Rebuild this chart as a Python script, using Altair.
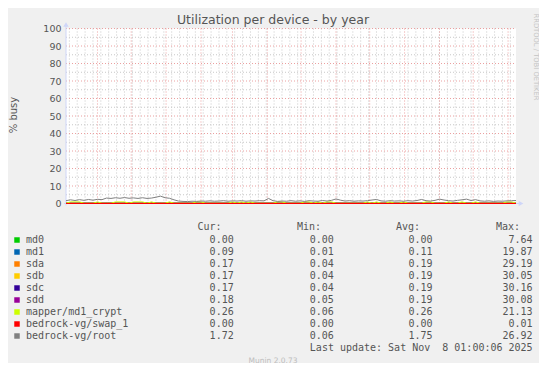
import altair as alt
import pandas as pd

# ---------------- data ----------------
series_names = ["md0", "md1", "sda", "sdb", "sdc", "sdd",
                "mapper/md1_crypt", "bedrock-vg/swap_1", "bedrock-vg/root"]
series_colors = ["#00CC00", "#0066B3", "#FF8000", "#FFCC00", "#330099",
                 "#990099", "#CCFF00", "#FF0000", "#808080"]
cur_vals = [0.00, 0.09, 0.17, 0.17, 0.17, 0.18, 0.26, 0.00, 1.72]
min_vals = [0.00, 0.01, 0.04, 0.04, 0.04, 0.05, 0.06, 0.00, 0.06]
avg_vals = [0.00, 0.11, 0.19, 0.19, 0.19, 0.19, 0.26, 0.00, 1.75]
max_vals = [7.64, 19.87, 29.19, 30.05, 30.16, 30.08, 21.13, 0.01, 26.92]

title_text = "Utilization per device - by year"
y_title = "% busy"
last_update = "Last update: Sat Nov\u00a0 8 01:00:06 2025"
munin_text = "Munin 2.0.73"
watermark = "RRDTOOL / TOBI OETIKER"

y_ticks = [0, 10, 20, 30, 40, 50, 60, 70, 80, 90, 100]
y_minor = [5, 15, 25, 35, 45, 55, 65, 75, 85, 95]
x_label_days = [(2024, 11, 17), (2025, 1, 17), (2025, 3, 17),
                (2025, 5, 17), (2025, 7, 17), (2025, 9, 17)]

start = pd.Timestamp("2024-10-04 01:00")
end = pd.Timestamp("2025-11-08 01:00")
dates4 = pd.date_range(start, end, freq="4D")     # 101 samples
dates16 = pd.date_range(start, end, freq="16D")   # 26 samples
week_lines = pd.date_range("2024-10-07", "2025-11-07", freq="7D")
month_lines = pd.date_range("2024-11-01", "2025-11-01", freq="MS")

root_vals = [1.6, 2.1, 1.7, 2.2, 1.8, 2.3, 1.9, 2.4, 2.2, 3.1,
             2.9, 3.3, 3.0, 3.4, 3.0, 3.2, 2.9, 3.3, 2.9, 3.1,
             3.6, 4.2, 3.3, 3.0, 2.1, 1.4, 1.2, 1.1, 1.3, 1.2,
             1.4, 1.3, 1.5, 1.3, 1.4, 1.6, 1.3, 1.5, 1.4, 1.6,
             1.3, 1.5, 1.4, 1.6, 1.5, 2.9, 1.6, 1.2, 1.4, 1.3,
             1.6, 1.3, 1.5, 1.2, 1.6, 1.4, 1.3, 1.7, 1.4, 1.8,
             2.6, 1.9, 1.4, 1.6, 1.3, 1.5, 1.4, 1.6, 2.0, 2.3,
             1.5, 1.3, 1.6, 1.4, 1.5, 1.3, 1.6, 1.4, 1.7, 2.3,
             1.6, 1.4, 1.8, 2.5, 2.0, 1.6, 1.4, 1.8, 2.1, 2.5,
             1.7, 2.2, 1.5, 1.3, 1.5, 1.2, 1.4, 1.3, 1.5, 1.6,
             1.7]
mapper_vals = [0.2, 0.9, 0.9, 0.9, 0.2, 0.2, 0.2, 0.9, 0.2, 0.2,
               0.2, 0.9, 0.9, 0.9, 0.2, 0.9, 0.9, 0.9, 0.2, 0.9,
               0.2, 0.2, 0.2, 0.9, 0.2, 0.2, 0.2, 0.2, 0.2, 0.9,
               0.9, 0.2, 0.2, 0.2, 0.2, 0.2, 0.2, 0.9, 0.2, 0.9,
               0.2, 0.9, 0.2, 0.2, 0.2, 0.2, 0.2, 0.9, 0.9, 0.2,
               0.2, 0.2, 0.2, 0.9, 0.9, 0.2, 0.9, 0.2, 0.9, 0.9,
               0.2, 0.2, 0.2, 0.2, 0.2, 0.2, 0.2, 0.9, 0.2, 0.9,
               0.2, 0.2, 0.9, 0.2, 0.2, 0.9, 0.2, 0.2, 0.2, 0.2,
               0.9, 0.9, 0.2, 0.2, 0.2, 0.9, 0.2, 0.2, 0.9, 0.2,
               0.2, 0.9, 0.2, 0.2, 0.2, 0.2, 0.2, 0.2, 0.9, 0.9,
               0.2]
md0_vals = [0.0, 0.0, 0.0, 0.0, 0.0, 0.0, 0.0, 0.0, 0.0, 0.0, 0.0, 0.0, 0.0,
            0.0, 0.0, 0.0, 0.0, 0.0, 0.0, 0.0, 0.0, 0.0, 0.0, 0.0, 0.0, 0.0]
md1_vals = [0.1, 0.12, 0.1, 0.11, 0.13, 0.1, 0.12, 0.1, 0.11, 0.1, 0.12, 0.11, 0.1,
            0.11, 0.1, 0.12, 0.11, 0.1, 0.12, 0.1, 0.11, 0.1, 0.12, 0.1, 0.11, 0.09]
sda_vals = [0.18, 0.2, 0.19, 0.21, 0.2, 0.18, 0.2, 0.19, 0.18, 0.2, 0.19, 0.2, 0.18,
            0.19, 0.2, 0.18, 0.19, 0.21, 0.19, 0.18, 0.2, 0.19, 0.18, 0.2, 0.19, 0.17]
sdb_vals = [0.19, 0.2, 0.18, 0.2, 0.21, 0.19, 0.2, 0.18, 0.19, 0.2, 0.18, 0.2, 0.19,
            0.18, 0.2, 0.19, 0.2, 0.19, 0.18, 0.2, 0.19, 0.2, 0.18, 0.19, 0.2, 0.17]
sdc_vals = [0.19, 0.2, 0.19, 0.2, 0.2, 0.18, 0.2, 0.19, 0.19, 0.2, 0.18, 0.19, 0.2,
            0.19, 0.19, 0.2, 0.18, 0.2, 0.19, 0.19, 0.2, 0.18, 0.19, 0.2, 0.19, 0.17]
sdd_vals = [0.2, 0.19, 0.2, 0.19, 0.21, 0.19, 0.2, 0.19, 0.18, 0.2, 0.19, 0.2, 0.19,
            0.18, 0.19, 0.2, 0.19, 0.2, 0.18, 0.19, 0.2, 0.19, 0.18, 0.2, 0.19, 0.18]
swap_vals = [0.0, 0.0, 0.0, 0.0, 0.0, 0.0, 0.0, 0.0, 0.0, 0.0, 0.0, 0.0, 0.0,
             0.0, 0.0, 0.0, 0.0, 0.0, 0.0, 0.0, 0.0, 0.0, 0.0, 0.0, 0.0, 0.0]

series_data = [
    (dates16, md0_vals), (dates16, md1_vals), (dates16, sda_vals),
    (dates16, sdb_vals), (dates16, sdc_vals), (dates16, sdd_vals),
    (dates4, mapper_vals), (dates16, swap_vals), (dates4, root_vals),
]

# ---------------- styling ----------------
W, H = 450, 175
FONT = "DejaVu Sans"
MONO = "DejaVu Sans Mono"
TXT = "#555555"
AXIS_C = "#CFD6F8"
MINOR_C = "#C8C8C8"
MAJOR_C = "#EBA0A0"

xs = alt.Scale(domain=[alt.DateTime(year=2024, month=10, date=4, hours=1),
                       alt.DateTime(year=2025, month=11, date=8, hours=1)])
ys = alt.Scale(domain=[0, 100])
rows_scale = alt.Scale(domain=[0, 8], range=[211.5, 307.5])

layers = []

# minor vertical grid (weekly) + x axis
layers.append(
    alt.Chart(pd.DataFrame({"d": week_lines})).mark_rule(
        color=MINOR_C, strokeWidth=1, strokeDash=[1, 2]
    ).encode(
        x=alt.X("d:T", scale=xs, axis=alt.Axis(
            values=[alt.DateTime(year=a, month=b, date=c) for a, b, c in x_label_days],
            format="%b %Y", grid=False, ticks=False, domain=False,
            labelFont=FONT, labelFontSize=9.5, labelColor=TXT,
            labelPadding=12.5, labelBaseline="alphabetic", title=None,
            labelOverlap=False, labelBound=False, labelFlush=False)),
        y=alt.value(0), y2=alt.value(H))
)
# major vertical grid (monthly)
layers.append(
    alt.Chart(pd.DataFrame({"d": month_lines})).mark_rule(
        color=MAJOR_C, strokeWidth=1, strokeDash=[1, 2]
    ).encode(x=alt.X("d:T", scale=xs, axis=None), y=alt.value(0), y2=alt.value(H))
)
# minor horizontal grid + y axis
layers.append(
    alt.Chart(pd.DataFrame({"v": y_minor})).mark_rule(
        color=MINOR_C, strokeWidth=1, strokeDash=[1, 2]
    ).encode(y=alt.Y("v:Q", scale=ys, axis=None), x=alt.value(0), x2=alt.value(W))
)
layers.append(
    alt.Chart(pd.DataFrame({"v": y_ticks})).mark_rule(
        color=MAJOR_C, strokeWidth=1, strokeDash=[1, 2]
    ).encode(
        y=alt.Y("v:Q", scale=ys, axis=alt.Axis(
            values=y_ticks, grid=False, ticks=False, domain=False,
            labelFont=FONT, labelFontSize=9.5, labelColor=TXT,
            labelPadding=5, title=None)),
        x=alt.value(0), x2=alt.value(W))
)

# axis lines and arrows
axis_df = pd.DataFrame({"k": [0]})
layers.append(alt.Chart(axis_df).mark_rule(color=AXIS_C, strokeWidth=1).encode(
    x=alt.value(0), y=alt.value(-4), y2=alt.value(H + 2)))
layers.append(alt.Chart(axis_df).mark_rule(color=AXIS_C, strokeWidth=1).encode(
    y=alt.value(H), x=alt.value(-2), x2=alt.value(W + 5)))
layers.append(alt.Chart(axis_df).mark_point(
    shape="triangle-up", filled=True, color=AXIS_C, size=30, opacity=1).encode(
    x=alt.value(0), y=alt.value(-4)))
layers.append(alt.Chart(axis_df).mark_point(
    shape="triangle-right", filled=True, color=AXIS_C, size=30, opacity=1).encode(
    x=alt.value(W + 5), y=alt.value(H)))

# data lines, in rrdtool draw order
for name, color, (dts, vals) in zip(series_names, series_colors, series_data):
    df = pd.DataFrame({"d": dts, "v": vals})
    layers.append(
        alt.Chart(df).mark_line(color=color, strokeWidth=1).encode(
            x=alt.X("d:T", scale=xs, axis=None),
            y=alt.Y("v:Q", scale=ys, axis=None))
    )

# title, axis title, watermark, footer
def label(text, x, y, font=FONT, size=10, color=TXT, align="center",
          baseline="middle", angle=0):
    return alt.Chart(pd.DataFrame({"t": [text]})).mark_text(
        font=font, fontSize=size, color=color, align=align,
        baseline=baseline, angle=angle).encode(
        text="t:N", x=alt.value(x), y=alt.value(y))

layers.append(label(title_text, 207, -5, size=12.5, baseline="alphabetic"))
layers.append(label(y_title, -52, 86.5, size=10, angle=270))
layers.append(label(watermark, 470, 28.5, size=6.75, color="#C4C4C4", angle=90))
layers.append(label(munin_text, 207, 332, size=7.5, color="#BDBDBD"))
layers.append(label(last_update, 466.6, 319.2, font=MONO, align="right"))

# legend header
for txt, xr in [("Cur:", 155.5), ("Min:", 255), ("Avg:", 354), ("Max:", 454)]:
    layers.append(label(txt, xr, 198.8, font=MONO, align="right"))

# legend rows
legend_df = pd.DataFrame({
    "row": list(range(len(series_names))),
    "name": series_names,
    "cur": [f"{v:.2f}" for v in cur_vals],
    "min": [f"{v:.2f}" for v in min_vals],
    "avg": [f"{v:.2f}" for v in avg_vals],
    "max": [f"{v:.2f}" for v in max_vals],
})
ry = alt.Y("row:Q", scale=rows_scale, axis=None)
layers.append(alt.Chart(legend_df).mark_square(size=30, opacity=1).encode(
    x=alt.value(-49), y=ry,
    color=alt.Color("name:N", scale=alt.Scale(domain=series_names, range=series_colors),
                    legend=None)))
layers.append(alt.Chart(legend_df).mark_text(
    font=MONO, fontSize=10, color=TXT, align="left", baseline="middle").encode(
    x=alt.value(-40), y=ry, text="name:N"))
for col, xr in [("cur", 167.7), ("min", 267.8), ("avg", 366.5), ("max", 466.6)]:
    layers.append(alt.Chart(legend_df).mark_text(
        font=MONO, fontSize=10, color=TXT, align="right", baseline="middle").encode(
        x=alt.value(xr), y=ry, text=f"{col}:N"))

chart = alt.layer(*layers).properties(
    width=W, height=H,
    background="#F0F0F0",
    padding={"left": 58, "top": 20.5, "right": 23, "bottom": 159.5},
    autosize=alt.AutoSizeParams(type="none"),
).resolve_scale(y="independent").configure_view(stroke=None, fill="#FFFFFF")

chart.save("out.html", embed_options={"renderer": "svg", "actions": False})
